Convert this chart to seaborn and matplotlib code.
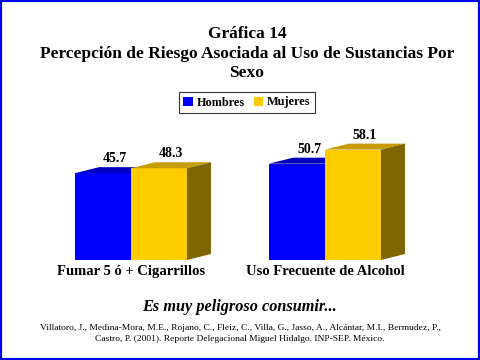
import numpy as np
import pandas as pd
import matplotlib
matplotlib.use("Agg")
import matplotlib.pyplot as plt
from matplotlib.patches import Polygon, Patch, Rectangle
import seaborn as sns

# datos
categorias = ["Fumar 5 ó + Cigarrillos", "Uso Frecuente de Alcohol"]
sexos = ["Hombres", "Mujeres"]
hombres = [45.7, 50.7]
mujeres = [48.3, 58.1]

frente = {"Hombres": "#0000ff", "Mujeres": "#ffcc00"}
arriba = {"Hombres": "#0000c0", "Mujeres": "#c89b00"}
lado = "#806600"

sns.set_theme(style="white")
plt.rcParams["font.family"] = ["Liberation Serif", "DejaVu Serif"]
plt.rcParams["text.color"] = "black"

df = pd.DataFrame({
    "cat": categorias * 2,
    "sexo": [sexos[0]] * 2 + [sexos[1]] * 2,
    "val": hombres + mujeres,
})

fig = plt.figure(figsize=(4.8, 3.6), dpi=100)
ax = fig.add_axes([34 / 480, 100 / 360, 388 / 480, 140 / 360])
sns.barplot(data=df, x="cat", y="val", hue="sexo", hue_order=sexos,
            palette=[frente[s] for s in sexos], width=0.577, gap=0,
            saturation=1, linewidth=0, legend=False, ax=ax)
ax.set_xlim(-0.5, 1.5)
ax.set_ylim(0, 140 / 1.9)
ax.axis("off")

# profundidad 3D en unidades de datos (24 px a la derecha, 6 px arriba)
dx = 24 / 194
dy = 6 / 1.9

bars = sorted(ax.patches, key=lambda p: p.get_x())
for i, p in enumerate(bars):
    x, w, h = p.get_x(), p.get_width(), p.get_height()
    s = sexos[i % 2]
    z = 2 + i * 3
    p.set_zorder(z)
    ax.add_patch(Polygon([(x, h), (x + dx, h + dy), (x + w + dx, h + dy), (x + w, h)],
                         closed=True, facecolor=arriba[s], edgecolor="none", zorder=z))
    ax.add_patch(Polygon([(x + w, 0), (x + w + dx, dy), (x + w + dx, h + dy), (x + w, h)],
                         closed=True, facecolor=lado, edgecolor="none", zorder=z))
    ax.annotate(f"{h:.1f}", (x + w / 2 + dx / 2, h + dy), xytext=(0, 1.5),
                textcoords="offset points", ha="center", va="bottom",
                fontsize=10, fontweight="bold", zorder=50, annotation_clip=False)

for j, c in enumerate(categorias):
    ax.text(j, -5.8, c, ha="center", va="center", fontsize=10.5,
            fontweight="bold", transform=ax.transData)

fig.text(247 / 480, 1 - 53.5 / 360, "Gráfica 14\nPercepción de Riesgo Asociada al Uso de Sustancias Por\nSexo",
         ha="center", va="center", multialignment="center", fontsize=12.5,
         fontweight="bold", linespacing=1.27)

handles = [Patch(facecolor=frente[s], edgecolor="none") for s in sexos]
leg = fig.legend(handles, sexos, loc="center", bbox_to_anchor=(247 / 480, 1 - 102.5 / 360),
                 ncol=2, frameon=True, fancybox=False, edgecolor="black",
                 prop={"weight": "bold", "size": 8.8}, handlelength=0.75, handleheight=0.8,
                 handletextpad=0.3, columnspacing=0.8, borderpad=0.4, borderaxespad=0)
leg.get_frame().set_linewidth(0.8)

fig.text(240 / 480, 1 - 307 / 360, "Es muy peligroso consumir...", ha="center", va="center",
         fontsize=11.7, fontweight="bold", style="italic")

fig.text(240 / 480, 1 - 333.5 / 360,
         "Villatoro, J., Medina-Mora, M.E., Rojano, C., Fleiz, C., Villa, G., Jasso, A., Alcántar, M.I., Bermudez, P.,\n"
         "Castro, P. (2001). Reporte Delegacional Miguel Hidalgo. INP-SEP. México.",
         ha="center", va="center", multialignment="center", fontsize=6.8, linespacing=1.4)

fig.patches.append(Rectangle((0, 0), 1, 1, transform=fig.transFigure, fill=False,
                             edgecolor="#0000ee", linewidth=3))

fig.savefig("out.png", dpi=100)
